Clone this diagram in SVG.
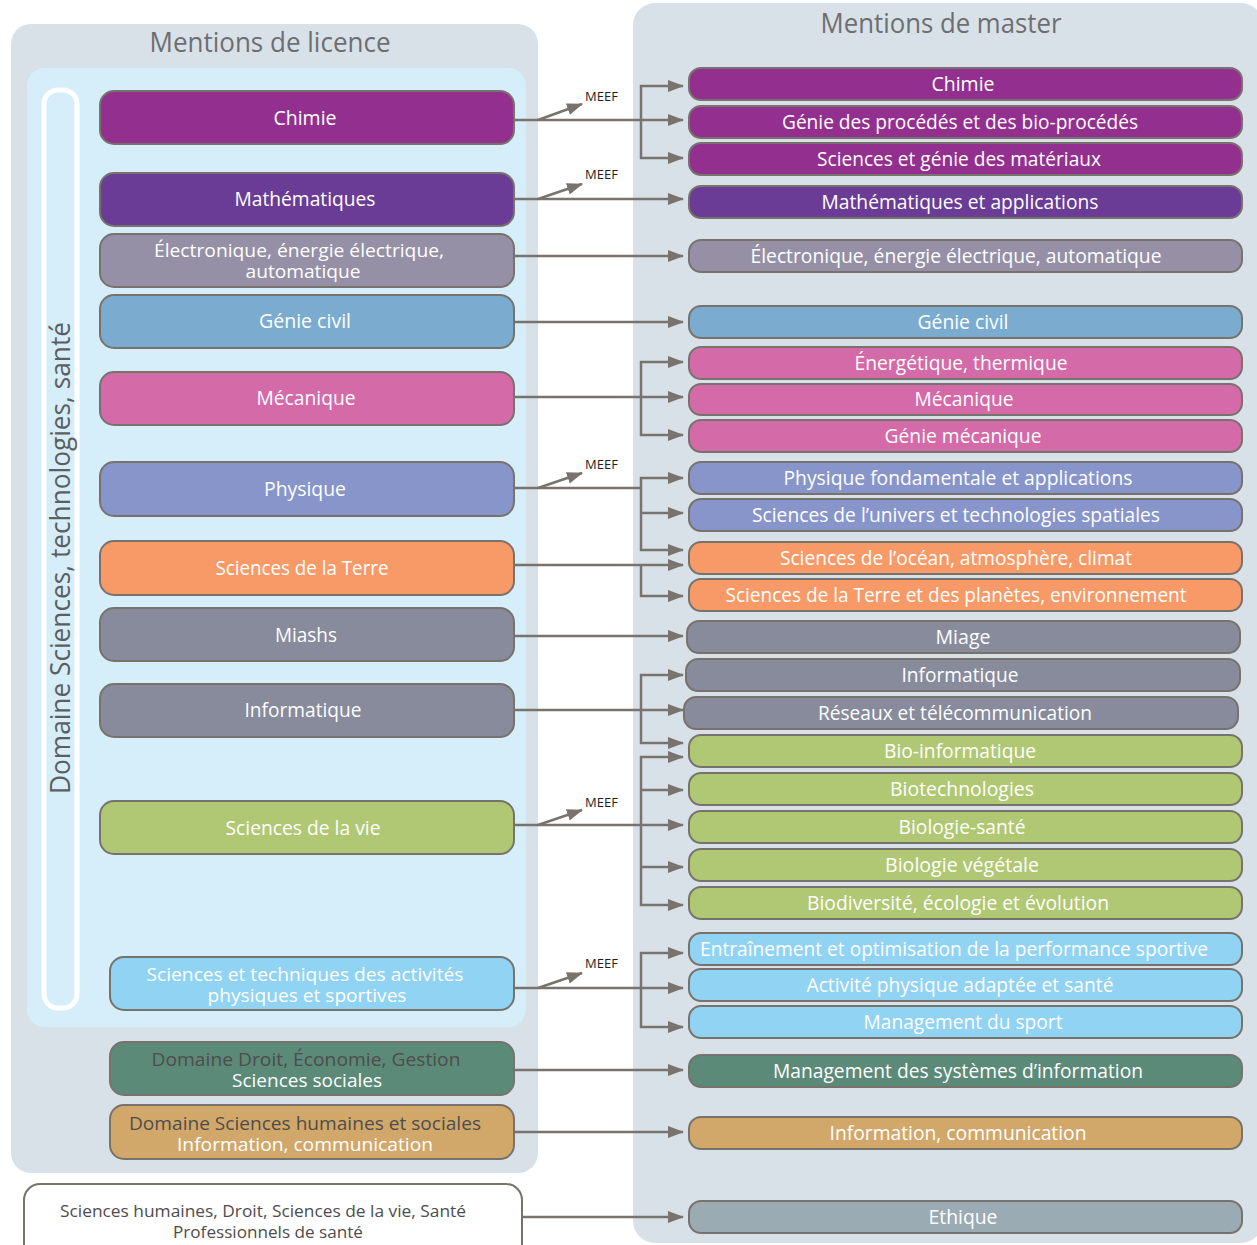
<svg xmlns="http://www.w3.org/2000/svg" width="1257" height="1245" viewBox="0 0 1257 1245">
<defs>
<style>
.panel{fill:#d9e1e8}
.inner{fill:#d5eef9}
.n rect{stroke:#77736c;stroke-width:2}
.t{font-family:"Open Sans","Noto Sans",sans-serif;font-size:20px;fill:#fff;text-anchor:middle}
.t2{font-size:19px}
.d{fill:#4f4c4d}
.title{font-family:"Open Sans","Noto Sans",sans-serif;font-size:28px;fill:#6d6e71;text-anchor:middle}
.meef{font-family:"Open Sans","Noto Sans",sans-serif;font-size:13px;fill:#231f20}
.chim{fill:#93308f}.math{fill:#6a3c95}.elec{fill:#9590a6}.gc{fill:#7bacd0}.meca{fill:#d46aa8}
.phys{fill:#8795cb}.terre{fill:#f79a68}.info{fill:#878b9c}.vie{fill:#b0c873}.staps{fill:#91d3f3}
.droit{fill:#5b8a78}.shs{fill:#d1a86a}.eth{fill:#9aabb3}.wht{fill:#fff}
#connectors path{fill:none;stroke:#78746d;stroke-width:2.5}
</style>
<marker id="ah" markerWidth="18" markerHeight="14" refX="15" refY="6" orient="auto" markerUnits="userSpaceOnUse">
<path d="M0,0 L16,6 L0,12 z" fill="#78746d"/>
</marker>
</defs>

<!-- panels -->
<rect class="panel" x="11" y="24" width="527" height="1149" rx="20"/>
<rect class="inner" x="27" y="68" width="499" height="959" rx="18"/>
<rect x="44" y="90" width="33" height="918" rx="14" fill="none" stroke="#fff" stroke-width="5"/>
<text class="title" x="60" y="558" transform="rotate(-90 60 558)" dy="10" style="font-size:27px;fill:#5d5e60" textLength="472" lengthAdjust="spacingAndGlyphs">Domaine Sciences, technologies, santé</text>
<rect class="panel" x="633" y="3" width="630" height="1240" rx="22"/>
<text class="title" x="270" y="52" textLength="241" lengthAdjust="spacingAndGlyphs">Mentions de licence</text>
<text class="title" x="941" y="33" textLength="241" lengthAdjust="spacingAndGlyphs">Mentions de master</text>

<!-- connectors -->
<g id="connectors">
<path d="M514,120 H683" marker-end="url(#ah)"/>
<path d="M641,120 V86 H683" marker-end="url(#ah)"/>
<path d="M641,120 V158 H683" marker-end="url(#ah)"/>
<path d="M538,120 L582,104" marker-end="url(#ah)"/>
<path d="M514,199 H683" marker-end="url(#ah)"/>
<path d="M538,199 L582,184" marker-end="url(#ah)"/>
<path d="M514,256 H683" marker-end="url(#ah)"/>
<path d="M514,322 H683" marker-end="url(#ah)"/>
<path d="M514,397 H683" marker-end="url(#ah)"/>
<path d="M641,397 V362 H683" marker-end="url(#ah)"/>
<path d="M641,397 V435 H683" marker-end="url(#ah)"/>
<path d="M514,488 H641"/>
<path d="M641,488 V478 H683" marker-end="url(#ah)"/>
<path d="M641,488 V550 H683" marker-end="url(#ah)"/>
<path d="M641,513 H683" marker-end="url(#ah)"/>
<path d="M538,488 L582,473" marker-end="url(#ah)"/>
<path d="M514,565 H683" marker-end="url(#ah)"/>
<path d="M641,565 V596 H683" marker-end="url(#ah)"/>
<path d="M514,636 H683" marker-end="url(#ah)"/>
<path d="M514,710 H683" marker-end="url(#ah)"/>
<path d="M641,710 V675 H683" marker-end="url(#ah)"/>
<path d="M641,710 V743 H683" marker-end="url(#ah)"/>
<path d="M514,825 H683" marker-end="url(#ah)"/>
<path d="M641,825 V757 H683" marker-end="url(#ah)"/>
<path d="M641,790 H683" marker-end="url(#ah)"/>
<path d="M641,825 V905 H683" marker-end="url(#ah)"/>
<path d="M641,867 H683" marker-end="url(#ah)"/>
<path d="M538,825 L582,810" marker-end="url(#ah)"/>
<path d="M514,988 H683" marker-end="url(#ah)"/>
<path d="M641,988 V953 H683" marker-end="url(#ah)"/>
<path d="M641,988 V1027 H683" marker-end="url(#ah)"/>
<path d="M538,988 L582,973" marker-end="url(#ah)"/>
<path d="M514,1070 H683" marker-end="url(#ah)"/>
<path d="M514,1132 H683" marker-end="url(#ah)"/>
<path d="M522,1217 H683" marker-end="url(#ah)"/>
</g>
<text class="meef" x="585" y="101">MEEF</text>
<text class="meef" x="585" y="179">MEEF</text>
<text class="meef" x="585" y="469">MEEF</text>
<text class="meef" x="585" y="807">MEEF</text>
<text class="meef" x="585" y="968">MEEF</text>

<!-- licence nodes -->
<g id="l-chimie" class="n"><rect class="chim" x="100" y="91" width="414" height="53" rx="14"/><text class="t" x="305" y="125" textLength="63" lengthAdjust="spacingAndGlyphs">Chimie</text></g>
<g id="l-math" class="n"><rect class="math" x="100" y="173" width="414" height="53" rx="14"/><text class="t" x="305" y="206" textLength="141" lengthAdjust="spacingAndGlyphs">Mathématiques</text></g>
<g id="l-elec" class="n"><rect class="elec" x="100" y="234" width="414" height="53" rx="14"/><text class="t t2" x="299" y="257" textLength="290" lengthAdjust="spacingAndGlyphs">Électronique, énergie électrique,</text><text class="t t2" x="303" y="278" textLength="115" lengthAdjust="spacingAndGlyphs">automatique</text></g>
<g id="l-gc" class="n"><rect class="gc" x="100" y="295" width="414" height="53" rx="14"/><text class="t" x="305" y="328" textLength="92" lengthAdjust="spacingAndGlyphs">Génie civil</text></g>
<g id="l-meca" class="n"><rect class="meca" x="100" y="372" width="414" height="53" rx="14"/><text class="t" x="306" y="405" textLength="99" lengthAdjust="spacingAndGlyphs">Mécanique</text></g>
<g id="l-phys" class="n"><rect class="phys" x="100" y="462" width="414" height="54" rx="14"/><text class="t" x="305" y="496" textLength="82" lengthAdjust="spacingAndGlyphs">Physique</text></g>
<g id="l-terre" class="n"><rect class="terre" x="100" y="541" width="414" height="54" rx="14"/><text class="t" x="302" y="575" textLength="173" lengthAdjust="spacingAndGlyphs">Sciences de la Terre</text></g>
<g id="l-miashs" class="n"><rect class="info" x="100" y="608" width="414" height="53" rx="14"/><text class="t" x="306" y="642" textLength="62" lengthAdjust="spacingAndGlyphs">Miashs</text></g>
<g id="l-info" class="n"><rect class="info" x="100" y="684" width="414" height="53" rx="14"/><text class="t" x="303" y="717" textLength="117" lengthAdjust="spacingAndGlyphs">Informatique</text></g>
<g id="l-vie" class="n"><rect class="vie" x="100" y="801" width="414" height="53" rx="14"/><text class="t" x="303" y="835" textLength="155" lengthAdjust="spacingAndGlyphs">Sciences de la vie</text></g>
<g id="l-staps" class="n"><rect class="staps" x="110" y="957" width="404" height="53" rx="14"/><text class="t t2" x="305" y="981" textLength="317" lengthAdjust="spacingAndGlyphs">Sciences et techniques des activités</text><text class="t t2" x="307" y="1002" textLength="199" lengthAdjust="spacingAndGlyphs">physiques et sportives</text></g>
<g id="l-droit" class="n"><rect class="droit" x="110" y="1042" width="404" height="53" rx="14"/><text class="t t2 d" x="306" y="1066" textLength="309" lengthAdjust="spacingAndGlyphs">Domaine Droit, Économie, Gestion</text><text class="t t2" x="307" y="1087" textLength="150" lengthAdjust="spacingAndGlyphs">Sciences sociales</text></g>
<g id="l-shs" class="n"><rect class="shs" x="110" y="1105" width="404" height="54" rx="14"/><text class="t t2 d" x="305" y="1130" textLength="352" lengthAdjust="spacingAndGlyphs">Domaine Sciences humaines et sociales</text><text class="t t2" x="305" y="1151" textLength="256" lengthAdjust="spacingAndGlyphs">Information, communication</text></g>
<g id="l-sante" class="n"><rect class="wht" x="24" y="1184" width="498" height="80" rx="16"/><text class="t d" x="263" y="1217" style="font-size:17px" textLength="406" lengthAdjust="spacingAndGlyphs">Sciences humaines, Droit, Sciences de la vie, Santé</text><text class="t d" x="268" y="1238" style="font-size:17px" textLength="190" lengthAdjust="spacingAndGlyphs">Professionnels de santé</text></g>

<!-- master nodes -->
<g id="m-chimie" class="n"><rect class="chim" x="689" y="68" width="553" height="32" rx="12"/><text class="t" x="963" y="91" textLength="63" lengthAdjust="spacingAndGlyphs">Chimie</text></g>
<g id="m-gpbp" class="n"><rect class="chim" x="689" y="106" width="553" height="32" rx="12"/><text class="t" x="960" y="129" textLength="356" lengthAdjust="spacingAndGlyphs">Génie des procédés et des bio-procédés</text></g>
<g id="m-sgm" class="n"><rect class="chim" x="689" y="143" width="553" height="32" rx="12"/><text class="t" x="959" y="166" textLength="284" lengthAdjust="spacingAndGlyphs">Sciences et génie des matériaux</text></g>
<g id="m-math" class="n"><rect class="math" x="689" y="186" width="553" height="32" rx="12"/><text class="t" x="960" y="209" textLength="277" lengthAdjust="spacingAndGlyphs">Mathématiques et applications</text></g>
<g id="m-elec" class="n"><rect class="elec" x="689" y="240" width="553" height="32" rx="12"/><text class="t" x="956" y="263" textLength="411" lengthAdjust="spacingAndGlyphs">Électronique, énergie électrique, automatique</text></g>
<g id="m-gc" class="n"><rect class="gc" x="689" y="306" width="553" height="32" rx="12"/><text class="t" x="963" y="329" textLength="91" lengthAdjust="spacingAndGlyphs">Génie civil</text></g>
<g id="m-energ" class="n"><rect class="meca" x="689" y="347" width="553" height="32" rx="12"/><text class="t" x="961" y="370" textLength="213" lengthAdjust="spacingAndGlyphs">Énergétique, thermique</text></g>
<g id="m-meca" class="n"><rect class="meca" x="689" y="384" width="553" height="31" rx="12"/><text class="t" x="964" y="406" textLength="99" lengthAdjust="spacingAndGlyphs">Mécanique</text></g>
<g id="m-gmeca" class="n"><rect class="meca" x="689" y="420" width="553" height="32" rx="12"/><text class="t" x="963" y="443" textLength="157" lengthAdjust="spacingAndGlyphs">Génie mécanique</text></g>
<g id="m-pfa" class="n"><rect class="phys" x="689" y="462" width="553" height="32" rx="12"/><text class="t" x="958" y="485" textLength="349" lengthAdjust="spacingAndGlyphs">Physique fondamentale et applications</text></g>
<g id="m-suts" class="n"><rect class="phys" x="689" y="499" width="553" height="32" rx="12"/><text class="t" x="956" y="522" textLength="408" lengthAdjust="spacingAndGlyphs">Sciences de l’univers et technologies spatiales</text></g>
<g id="m-soac" class="n"><rect class="terre" x="689" y="542" width="553" height="32" rx="12"/><text class="t" x="956" y="565" textLength="352" lengthAdjust="spacingAndGlyphs">Sciences de l’océan, atmosphère, climat</text></g>
<g id="m-stpe" class="n"><rect class="terre" x="689" y="579" width="553" height="32" rx="12"/><text class="t" x="956" y="602" textLength="461" lengthAdjust="spacingAndGlyphs">Sciences de la Terre et des planètes, environnement</text></g>
<g id="m-miage" class="n"><rect class="info" x="687" y="621" width="553" height="32" rx="12"/><text class="t" x="963" y="644" textLength="55" lengthAdjust="spacingAndGlyphs">Miage</text></g>
<g id="m-info" class="n"><rect class="info" x="686" y="659" width="554" height="32" rx="12"/><text class="t" x="960" y="682" textLength="117" lengthAdjust="spacingAndGlyphs">Informatique</text></g>
<g id="m-rt" class="n"><rect class="info" x="684" y="697" width="554" height="32" rx="12"/><text class="t" x="955" y="720" textLength="274" lengthAdjust="spacingAndGlyphs">Réseaux et télécommunication</text></g>
<g id="m-bioinfo" class="n"><rect class="vie" x="689" y="735" width="553" height="32" rx="12"/><text class="t" x="960" y="758" textLength="152" lengthAdjust="spacingAndGlyphs">Bio-informatique</text></g>
<g id="m-biotech" class="n"><rect class="vie" x="689" y="773" width="553" height="32" rx="12"/><text class="t" x="962" y="796" textLength="144" lengthAdjust="spacingAndGlyphs">Biotechnologies</text></g>
<g id="m-biosante" class="n"><rect class="vie" x="689" y="811" width="553" height="32" rx="12"/><text class="t" x="962" y="834" textLength="127" lengthAdjust="spacingAndGlyphs">Biologie-santé</text></g>
<g id="m-biov" class="n"><rect class="vie" x="689" y="849" width="553" height="32" rx="12"/><text class="t" x="962" y="872" textLength="154" lengthAdjust="spacingAndGlyphs">Biologie végétale</text></g>
<g id="m-biodiv" class="n"><rect class="vie" x="689" y="887" width="553" height="32" rx="12"/><text class="t" x="958" y="910" textLength="302" lengthAdjust="spacingAndGlyphs">Biodiversité, écologie et évolution</text></g>
<g id="m-eops" class="n"><rect class="staps" x="689" y="933" width="553" height="32" rx="12"/><text class="t" x="954" y="956" textLength="508" lengthAdjust="spacingAndGlyphs">Entraînement et optimisation de la performance sportive</text></g>
<g id="m-apas" class="n"><rect class="staps" x="689" y="969" width="553" height="32" rx="12"/><text class="t" x="960" y="992" textLength="307" lengthAdjust="spacingAndGlyphs">Activité physique adaptée et santé</text></g>
<g id="m-ms" class="n"><rect class="staps" x="689" y="1006" width="553" height="32" rx="12"/><text class="t" x="963" y="1029" textLength="199" lengthAdjust="spacingAndGlyphs">Management du sport</text></g>
<g id="m-msi" class="n"><rect class="droit" x="689" y="1055" width="553" height="32" rx="12"/><text class="t" x="958" y="1078" textLength="370" lengthAdjust="spacingAndGlyphs">Management des systèmes d’information</text></g>
<g id="m-ic" class="n"><rect class="shs" x="689" y="1117" width="553" height="32" rx="12"/><text class="t" x="958" y="1140" textLength="257" lengthAdjust="spacingAndGlyphs">Information, communication</text></g>
<g id="m-eth" class="n"><rect class="eth" x="689" y="1201" width="553" height="32" rx="12"/><text class="t" x="963" y="1224" textLength="69" lengthAdjust="spacingAndGlyphs">Ethique</text></g>
</svg>
